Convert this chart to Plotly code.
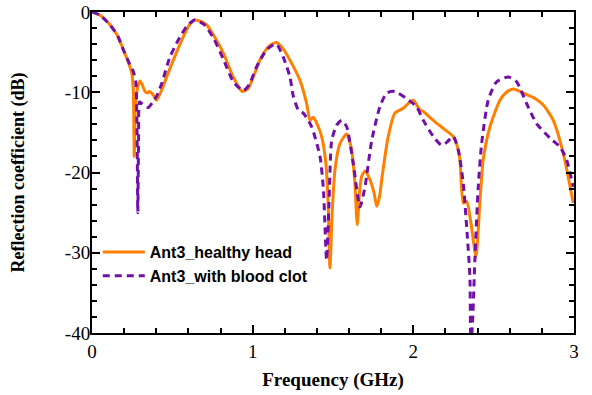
import plotly.graph_objects as go

# Healthy head (solid orange)
f_healthy = [0.0, 0.05, 0.112, 0.16, 0.195, 0.225, 0.247, 0.257, 0.263, 0.268, 0.274, 0.285, 0.299, 0.315,
             0.33, 0.345, 0.357, 0.38, 0.402, 0.434, 0.47, 0.506, 0.568, 0.61, 0.641, 0.68, 0.714, 0.76,
             0.817, 0.879, 0.935, 0.97, 1.004, 1.045, 1.09, 1.12, 1.149, 1.19, 1.232, 1.294, 1.336,
             1.357, 1.377, 1.40, 1.429, 1.456, 1.47, 1.481, 1.495, 1.512, 1.543, 1.585, 1.616, 1.635,
             1.651, 1.665, 1.678, 1.699, 1.730, 1.755, 1.772, 1.790, 1.803, 1.844, 1.885, 1.937, 1.979,
             2.00, 2.041, 2.062, 2.124, 2.186, 2.248, 2.27, 2.290, 2.311, 2.332, 2.36, 2.390, 2.414,
             2.435, 2.477, 2.539, 2.58, 2.622, 2.705, 2.760, 2.809, 2.871, 2.933, 2.995]
db_healthy = [0.0, -0.4, -1.6, -3.0, -4.7, -6.2, -7.6, -9.7, -18.0, -13.0, -11.0, -9.3, -8.6, -9.2,
              -9.9, -10.1, -9.9, -10.3, -11.0, -9.7, -7.8, -6.0, -3.1, -1.5, -1.0, -1.2, -1.6, -3.0,
              -5.1, -8.1, -9.9, -9.6, -8.1, -6.0, -4.5, -4.0, -3.8, -4.6, -6.0, -8.5, -11.4,
              -13.5, -13.1, -13.9, -15.5, -18.9, -24.0, -31.9, -25.0, -19.7, -16.4, -15.2, -17.2, -21.0,
              -26.5, -22.5, -20.5, -19.8, -20.9, -22.5, -24.2, -23.0, -20.9, -15.5, -12.6, -12.0, -11.2,
              -11.0, -12.2, -12.4, -13.5, -14.5, -15.5, -16.5, -18.4, -23.8, -23.6, -26.5, -30.5, -23.8,
              -18.4, -14.3, -11.0, -10.0, -9.6, -10.3, -10.8, -11.6, -13.5, -17.6, -23.8]

# With blood clot (dashed purple)
f_clot = [0.0, 0.05, 0.112, 0.16, 0.195, 0.23, 0.257, 0.272, 0.280, 0.285, 0.290, 0.296, 0.309, 0.33,
          0.35, 0.375, 0.402, 0.434, 0.485, 0.537, 0.589, 0.64, 0.70, 0.76, 0.82, 0.88, 0.942,
          0.98, 1.025, 1.087, 1.128, 1.149, 1.19, 1.232, 1.253, 1.284, 1.315, 1.367, 1.419, 1.44,
          1.46, 1.475, 1.492, 1.523, 1.554, 1.585, 1.626, 1.668, 1.699, 1.741, 1.792, 1.834, 1.885,
          1.958, 2.02, 2.062, 2.124, 2.176, 2.21, 2.248, 2.28, 2.311, 2.332, 2.352, 2.358, 2.37,
          2.383, 2.404, 2.425, 2.466, 2.518, 2.59, 2.643, 2.705, 2.767, 2.85, 2.912, 2.954, 2.995]
db_clot = [0.0, -0.4, -1.6, -3.0, -4.7, -6.3, -7.4, -8.6, -14.0, -25.0, -16.0, -11.2, -11.4, -11.7,
           -11.9, -11.3, -10.5, -8.9, -5.6, -3.5, -1.8, -1.0, -1.6, -3.4, -6.0, -8.7, -9.8,
           -9.0, -6.8, -4.7, -4.1, -4.0, -5.6, -8.1, -10.5, -12.2, -12.6, -14.3, -18.0, -22.0,
           -30.9, -24.0, -16.0, -14.1, -13.5, -14.3, -18.9, -24.3, -21.8, -16.0, -11.8, -10.1, -9.9,
           -10.8, -11.8, -13.5, -15.5, -16.6, -16.2, -15.5, -17.2, -21.4, -26.8, -33.0, -42.0, -38.0,
           -30.9, -21.8, -16.4, -11.0, -8.7, -8.1, -8.7, -11.4, -13.9, -15.7, -16.8, -18.4, -21.8]

series_names = ["Ant3_healthy head", "Ant3_with blood clot"]

x_tickvals = [0, 1, 2, 3]
x_ticktext = ["0", "1", "2", "3"]
y_tickvals = [0, -10, -20, -30, -40]
y_ticktext = ["0", "-10", "-20", "-30", "-40"]

fig = go.Figure()
fig.add_trace(go.Scatter(x=f_healthy, y=db_healthy, mode="lines", name=series_names[0],
                         line=dict(color="#FF8000", width=3, shape="spline", smoothing=0.6)))
fig.add_trace(go.Scatter(x=f_clot, y=db_clot, mode="lines", name=series_names[1],
                         line=dict(color="#7010A8", width=3, dash="7px,5px", shape="spline", smoothing=0.6)))

axis_common = dict(showline=True, linecolor="black", linewidth=2, mirror="ticks",
                   ticks="inside", ticklen=8, tickwidth=2, tickcolor="black",
                   showgrid=False, zeroline=False, automargin=False, ticklabeloverflow="allow",
                   tickfont=dict(family="Liberation Serif", size=19, color="black"))

fig.update_xaxes(range=[0, 3], tickmode="array", tickvals=x_tickvals, ticktext=x_ticktext,
                 minor=dict(ticks="inside", ticklen=5, tickwidth=2, dtick=0.2, tick0=0, tickcolor="black"),
                 title=dict(text="<b>Frequency (GHz)</b>", font=dict(family="Liberation Serif", size=19, color="black"), standoff=12),
                 **axis_common)
fig.update_yaxes(range=[-40, 0], tickmode="array", tickvals=y_tickvals, ticktext=y_ticktext, ticklabelstandoff=-4,
                 minor=dict(ticks="inside", ticklen=5, tickwidth=2, dtick=2, tick0=0, tickcolor="black"),
                 title=dict(text="<b>Reflection coefficient (dB)</b>", font=dict(family="Liberation Serif", size=18, color="black"), standoff=36),
                 **axis_common)

fig.update_layout(
    width=592, height=395,
    margin=dict(l=92, r=18, t=12, b=62),
    plot_bgcolor="white", paper_bgcolor="white",
    showlegend=True,
    legend=dict(x=0.012, y=0.305, xanchor="left", yanchor="top", bgcolor="rgba(0,0,0,0)",
                font=dict(family="Liberation Sans", size=16, color="black", weight="bold"),
                tracegroupgap=0, itemwidth=42),
)

fig.write_html("out.html", config={"displayModeBar": False},
               post_script="document.body.style.margin='0';")
